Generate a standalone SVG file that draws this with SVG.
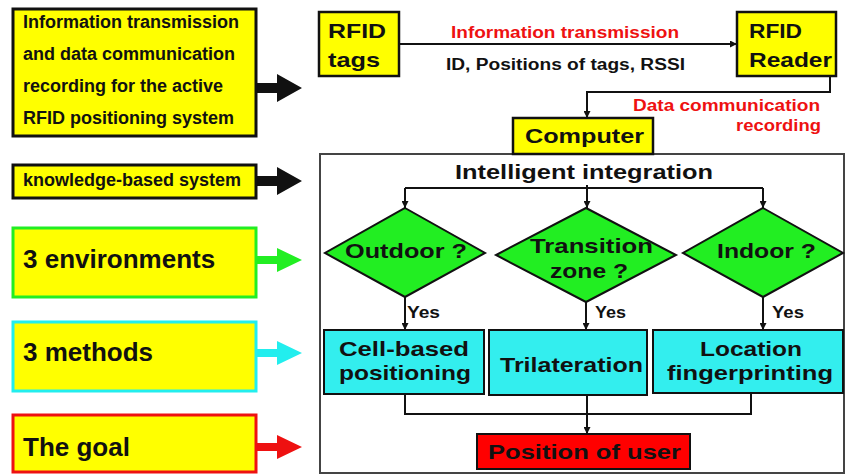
<svg xmlns="http://www.w3.org/2000/svg" width="846" height="475" viewBox="0 0 846 475">
<defs>
<style>
text{font-family:"Liberation Sans",Arial,sans-serif;font-weight:bold;fill:#111}
.l18{font-size:18px}
.l26{font-size:26px}
.t21{font-size:21px}
.t16{font-size:16px}
.red{fill:#EE1111}
.ybox{fill:#FFFF00;stroke:#111;stroke-width:2.5}
.lbox{fill:#FFFF00;stroke-width:3}
.dia{fill:#22EE22;stroke:#111;stroke-width:2}
.cbox{fill:#33EEEE;stroke:#111;stroke-width:2}
.conn{fill:none;stroke:#111;stroke-width:2}
</style>
<marker id="ah" viewBox="0 0 10 10" refX="10" refY="5" markerWidth="7" markerHeight="7" markerUnits="userSpaceOnUse" orient="auto">
<path d="M0,0 L10,5 L0,10 Z" fill="#111"/>
</marker>
<path id="bigArrow" d="M0,-5 H21 V-14 L46,0 L21,14 V5 H0 Z"/>
<path id="colArrow" d="M0,-4 H21 V-12 L46,0 L21,12 V4 H0 Z"/>
</defs>

<rect x="320" y="154" width="524" height="319" fill="none" stroke="#444" stroke-width="2"/>

<g id="connectors">
<path class="conn" d="M399,44 H737" marker-end="url(#ah)"/>
<path class="conn" d="M830,76 V92 H587 V118" marker-end="url(#ah)"/>
<path class="conn" d="M587,185 V208" marker-end="url(#ah)"/>
<path class="conn" d="M405,188 H763"/>
<path class="conn" d="M405,188 V208" marker-end="url(#ah)"/>
<path class="conn" d="M763,188 V208" marker-end="url(#ah)"/>
<path class="conn" d="M405,297 V330" marker-end="url(#ah)"/>
<path class="conn" d="M586,302 V330" marker-end="url(#ah)"/>
<path class="conn" d="M763,297 V330" marker-end="url(#ah)"/>
<path class="conn" d="M405,394 V414 H751 V393"/>
<path class="conn" d="M587,396 V434" marker-end="url(#ah)"/>
<use href="#bigArrow" transform="translate(256,88)" fill="#111"/>
<use href="#bigArrow" transform="translate(256,181)" fill="#111"/>
<use href="#colArrow" transform="translate(256,260)" fill="#22EE22"/>
<use href="#colArrow" transform="translate(256,353)" fill="#22EEEE"/>
<use href="#colArrow" transform="translate(256,447)" fill="#EE1111"/>
</g>

<g id="edge-labels">
<text class="t16 red" x="451" y="38" textLength="228" lengthAdjust="spacingAndGlyphs">Information transmission</text>
<text class="t16" x="446" y="70" textLength="239" lengthAdjust="spacingAndGlyphs">ID, Positions of tags, RSSI</text>
<text class="t16 red" x="633" y="111" textLength="187" lengthAdjust="spacingAndGlyphs">Data communication</text>
<text class="t16 red" x="736" y="131" textLength="85" lengthAdjust="spacingAndGlyphs">recording</text>
<text class="t16" x="407" y="318" textLength="33" lengthAdjust="spacingAndGlyphs">Yes</text>
<text class="t16" x="595" y="318" textLength="31" lengthAdjust="spacingAndGlyphs">Yes</text>
<text class="t16" x="772" y="318" textLength="32" lengthAdjust="spacingAndGlyphs">Yes</text>
</g>

<g id="legend-info">
<rect class="lbox" x="13" y="9" width="243" height="127" stroke="#111"/>
<text class="l18" x="23" y="28">Information transmission</text>
<text class="l18" x="23" y="60">and data communication</text>
<text class="l18" x="23" y="92">recording for the active</text>
<text class="l18" x="23" y="124">RFID positioning system</text>
</g>
<g id="legend-knowledge">
<rect class="lbox" x="13" y="165" width="243" height="33" stroke="#111"/>
<text class="l18" x="23" y="186">knowledge-based system</text>
</g>
<g id="legend-env">
<rect class="lbox" x="13" y="228" width="243" height="69" stroke="#22EE22"/>
<text class="l26" x="23" y="268">3 environments</text>
</g>
<g id="legend-methods">
<rect class="lbox" x="13" y="322" width="243" height="69" stroke="#22EEEE"/>
<text class="l26" x="23" y="361">3 methods</text>
</g>
<g id="legend-goal">
<rect class="lbox" x="13" y="415" width="243" height="57" stroke="#EE1111"/>
<text class="l26" x="23" y="456">The goal</text>
</g>

<g id="rfid-tags">
<rect class="ybox" x="319" y="12" width="80" height="64"/>
<text class="t21" x="328" y="38" textLength="58" lengthAdjust="spacingAndGlyphs">RFID</text>
<text class="t21" x="328" y="67" textLength="52" lengthAdjust="spacingAndGlyphs">tags</text>
</g>
<g id="rfid-reader">
<rect class="ybox" x="737" y="12" width="99" height="64"/>
<text class="t21" x="749" y="38" textLength="53" lengthAdjust="spacingAndGlyphs">RFID</text>
<text class="t21" x="749" y="67" textLength="83" lengthAdjust="spacingAndGlyphs">Reader</text>
</g>
<g id="computer">
<rect class="ybox" x="513" y="118" width="140" height="36"/>
<text class="t21" x="525" y="143" textLength="119" lengthAdjust="spacingAndGlyphs">Computer</text>
</g>
<g id="integration">
<text class="t21" x="455" y="179" textLength="258" lengthAdjust="spacingAndGlyphs">Intelligent integration</text>
</g>
<g id="outdoor">
<polygon class="dia" points="405,208 485,253 405,297 325,253"/>
<text class="t21" x="345" y="258" textLength="122" lengthAdjust="spacingAndGlyphs">Outdoor ?</text>
</g>
<g id="transition">
<polygon class="dia" points="586,208 676,255 586,302 496,255"/>
<text class="t21" x="530" y="253" textLength="123" lengthAdjust="spacingAndGlyphs">Transition</text>
<text class="t21" x="550" y="278" textLength="78" lengthAdjust="spacingAndGlyphs">zone ?</text>
</g>
<g id="indoor">
<polygon class="dia" points="763,208 843,253 763,297 683,253"/>
<text class="t21" x="717" y="258" textLength="99" lengthAdjust="spacingAndGlyphs">Indoor ?</text>
</g>
<g id="cell-based">
<rect class="cbox" x="324" y="330" width="160" height="64"/>
<text class="t21" x="339" y="356" textLength="130" lengthAdjust="spacingAndGlyphs">Cell-based</text>
<text class="t21" x="339" y="380" textLength="132" lengthAdjust="spacingAndGlyphs">positioning</text>
</g>
<g id="trilateration">
<rect class="cbox" x="489" y="330" width="158" height="65"/>
<text class="t21" x="500" y="372" textLength="143" lengthAdjust="spacingAndGlyphs">Trilateration</text>
</g>
<g id="fingerprinting">
<rect class="cbox" x="653" y="330" width="190" height="63"/>
<text class="t21" x="700" y="356" textLength="102" lengthAdjust="spacingAndGlyphs">Location</text>
<text class="t21" x="667" y="380" textLength="166" lengthAdjust="spacingAndGlyphs">fingerprinting</text>
</g>
<g id="position">
<rect x="477" y="434" width="213" height="35" fill="#FF0000" stroke="#111" stroke-width="2"/>
<text class="t21" x="488" y="459" textLength="193" lengthAdjust="spacingAndGlyphs">Position of user</text>
</g>
</svg>
